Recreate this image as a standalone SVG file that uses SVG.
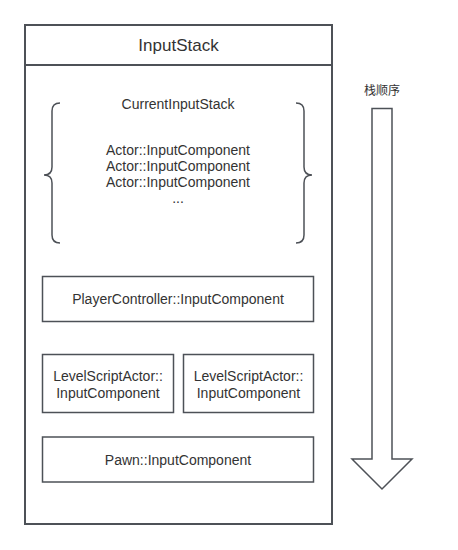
<svg xmlns="http://www.w3.org/2000/svg" width="458" height="550" viewBox="0 0 458 550">
<style>
.box{fill:#ffffff;stroke:#4d5157;stroke-width:1.5}
.outer{fill:#ffffff;stroke:#4d5157;stroke-width:2}
.brace{fill:none;stroke:#4d5157;stroke-width:1.5}
text{font-family:"Liberation Sans","Noto Sans CJK SC",sans-serif;fill:#333333;text-anchor:middle}
.t{font-size:14px}
.h{font-size:17px}
</style>
<rect width="458" height="550" fill="#ffffff"/>
<g id="inputstack">
<rect class="outer" x="25" y="25" width="307" height="499"/>
<line x1="25" y1="65" x2="332" y2="65" stroke="#4d5157" stroke-width="2"/>
<text class="h" x="178.5" y="51">InputStack</text>
</g>
<g id="currentinputstack">
<path class="brace" d="M60,103 Q52,103 52,111 L52,167 Q52,175 44,175 Q52,175 52,183 L52,235 Q52,243 60,243"/>
<path class="brace" d="M296,103 Q304,103 304,111 L304,167 Q304,175 312,175 Q304,175 304,183 L304,235 Q304,243 296,243"/>
<text class="t" x="178" y="109">CurrentInputStack</text>
<text class="t" x="178" y="155">Actor::InputComponent</text>
<text class="t" x="178" y="171">Actor::InputComponent</text>
<text class="t" x="178" y="187">Actor::InputComponent</text>
<text class="t" x="178" y="203">...</text>
</g>
<g id="playercontroller">
<rect class="box" x="42.5" y="276.5" width="271" height="45"/>
<text class="t" x="178" y="304">PlayerController::InputComponent</text>
</g>
<g id="levelscript1">
<rect class="box" x="42.5" y="354.5" width="131" height="58"/>
<text class="t" x="108" y="381">LevelScriptActor::</text>
<text class="t" x="108" y="398">InputComponent</text>
</g>
<g id="levelscript2">
<rect class="box" x="183.5" y="354.5" width="130" height="58"/>
<text class="t" x="248.5" y="381">LevelScriptActor::</text>
<text class="t" x="248.5" y="398">InputComponent</text>
</g>
<g id="pawn">
<rect class="box" x="42.5" y="437" width="271" height="45"/>
<text class="t" x="178" y="465">Pawn::InputComponent</text>
</g>
<g id="stackorder">
<text x="382" y="95" style="font-size:12px">栈顺序</text>
<path class="box" d="M372,108.5 L392,108.5 L392,459 L412,459 L382,489 L352,459 L372,459 Z"/>
</g>
<g id="connectors"></g>
</svg>
